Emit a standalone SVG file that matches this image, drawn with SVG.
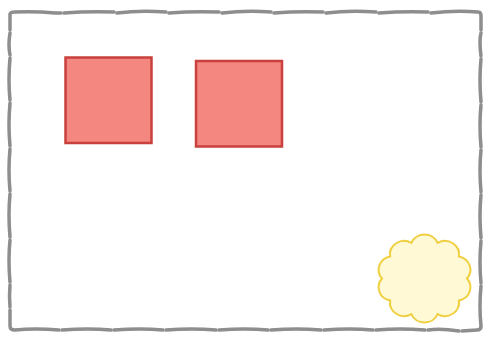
<svg xmlns="http://www.w3.org/2000/svg" width="487" height="339" viewBox="0 0 487 339">
  <style>
    .frame path { fill: none; stroke: #8e8e8e; stroke-width: 3.5; stroke-linecap: round; stroke-linejoin: round; }
    .box { fill: #f4877f; stroke: #c9413c; stroke-width: 2.5; }
    .cloud { fill: #fff9d6; stroke: #f0d040; stroke-width: 1.9; }
  </style>
  <rect width="487" height="339" fill="#ffffff"/>
  <g id="frame" class="frame">
    <path d="M10 30 L10 14 Q11 12 14 12 Q35 11 55 13 L61 13"/>
    <path d="M64 13 Q88 11 114 12"/>
    <path d="M117 13 Q140 10 166 12"/>
    <path d="M169 13 Q193 11 219 12"/>
    <path d="M222 13 Q246 10 271 12"/>
    <path d="M274 13 Q298 11 323 12"/>
    <path d="M326 13 Q350 10 376 12"/>
    <path d="M379 13 Q403 11 428 12"/>
    <path d="M431 13 Q455 10 478 12 Q481 12 481 16 L481 30"/>
    <path d="M481 33 Q479 40 481 56"/>
    <path d="M481 59 Q479 80 481 102"/>
    <path d="M481 105 Q479 125 481 147"/>
    <path d="M481 150 Q479 170 481 192"/>
    <path d="M481 195 Q479 215 481 238"/>
    <path d="M481 241 Q479 262 481 283"/>
    <path d="M481 286 Q479 307 481 326 Q481 330 477 330 L462 331"/>
    <path d="M459 331 Q440 328 428 330"/>
    <path d="M425 330 Q400 328 376 330"/>
    <path d="M373 330 Q350 328 324 330"/>
    <path d="M321 330 Q297 328 271 330"/>
    <path d="M268 330 Q245 328 219 330"/>
    <path d="M216 330 Q192 328 166 330"/>
    <path d="M163 330 Q140 328 114 330"/>
    <path d="M111 330 Q88 328 62 330"/>
    <path d="M59 330 Q35 328 15 330 Q10 330 10 326 L10 310"/>
    <path d="M10 307 Q9 296 10 285"/>
    <path d="M10 282 Q8 260 10 240"/>
    <path d="M10 237 Q8 215 10 194"/>
    <path d="M10 191 Q8 170 10 149"/>
    <path d="M10 146 Q8 125 10 103"/>
    <path d="M10 100 Q8 80 10 58"/>
    <path d="M10 55 Q8 45 10 33"/>
  </g>
  <g id="box1">
    <rect class="box" x="65.5" y="57.5" width="86" height="85.5"/>
  </g>
  <g id="box2">
    <rect class="box" x="196" y="61" width="86" height="85.5"/>
  </g>
  <g id="cloud">
    <path class="cloud" transform="translate(424.5 278.5) scale(1.09 1.04) translate(-424.5 -278.5)" d="M463.5 278.5 A13 13 0 0 1 456.05 299.67 A13 13 0 0 1 436.55 312.74 A13 13 0 0 1 412.45 312.74 A13 13 0 0 1 392.95 299.67 A13 13 0 0 1 385.5 278.5 A13 13 0 0 1 392.95 257.33 A13 13 0 0 1 412.45 244.26 A13 13 0 0 1 436.55 244.26 A13 13 0 0 1 456.05 257.33 A13 13 0 0 1 463.5 278.5 Z"/>
  </g>
</svg>
